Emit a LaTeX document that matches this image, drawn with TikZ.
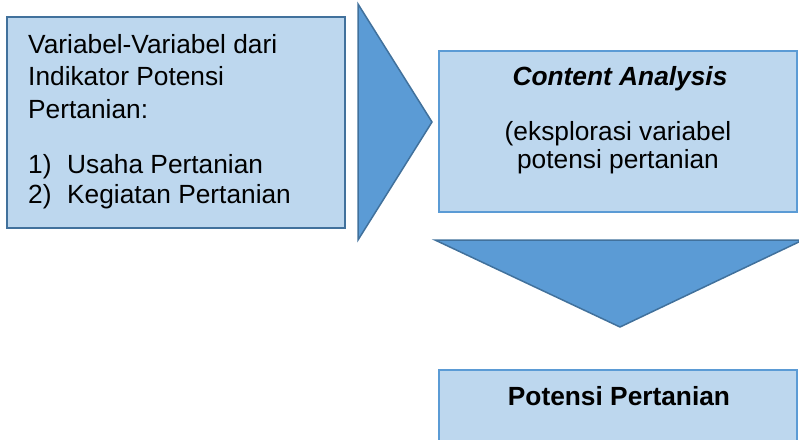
\documentclass[tikz,border=0pt]{standalone}
\usepackage{fontspec}
\setmainfont{Liberation Sans}
\definecolor{boxfill}{HTML}{BDD7EE}
\definecolor{arrowfill}{HTML}{5B9BD5}
\definecolor{darkedge}{HTML}{41719C}
\definecolor{lightedge}{HTML}{5B9BD5}
\tikzset{
  inputbox/.style={draw=darkedge, fill=boxfill, line width=2pt},
  stagebox/.style={draw=lightedge, fill=boxfill, line width=2pt},
  blockarrow/.style={draw=darkedge, fill=arrowfill, line width=1.5pt, line join=miter},
  label/.style={inner sep=0pt, font=\fontsize{26.3}{32.5}\selectfont},
}
\begin{document}
\begin{tikzpicture}[x=1pt, y=-1pt]
  \useasboundingbox (0,0) rectangle (799,439);
  \begin{scope}
    \clip (0,0) rectangle (799,439);
    % boxes
    \draw[inputbox] (7,17) rectangle (345,228);
    \draw[stagebox] (439,51) rectangle (797,212);
    \draw[stagebox] (439,370) rectangle (797,460);
    % chevrons between the stages
    \draw[blockarrow] (358,4) -- (432,122) -- (358,240) -- cycle;
    \draw[blockarrow] (435,240) -- (803,240) -- (620,327) -- cycle;
  \end{scope}
  % input text
  \node[label, anchor=base west] (vars1) at (28,53) {Variabel-Variabel dari};
  \node[label, anchor=base west] (vars2) at (28,85) {Indikator Potensi};
  \node[label, anchor=base west] (vars3) at (28,118) {Pertanian:};
  \node[label, anchor=base west] (item1) at (28,173)
    {\makebox[39pt][l]{1)}Usaha Pertanian};
  \node[label, anchor=base west] (item2) at (28,203)
    {\makebox[39pt][l]{2)}Kegiatan Pertanian};
  % analysis stage
  \node[label, anchor=base] (ca) at (620,85) {\bfseries\itshape Content Analysis};
  \node[label, anchor=base] (ex1) at (618,140) {(eksplorasi variabel};
  \node[label, anchor=base] (ex2) at (618,168) {potensi pertanian};
  % result stage
  \node[label, anchor=base] (res) at (619,405) {\bfseries Potensi Pertanian};
\end{tikzpicture}
\end{document}
